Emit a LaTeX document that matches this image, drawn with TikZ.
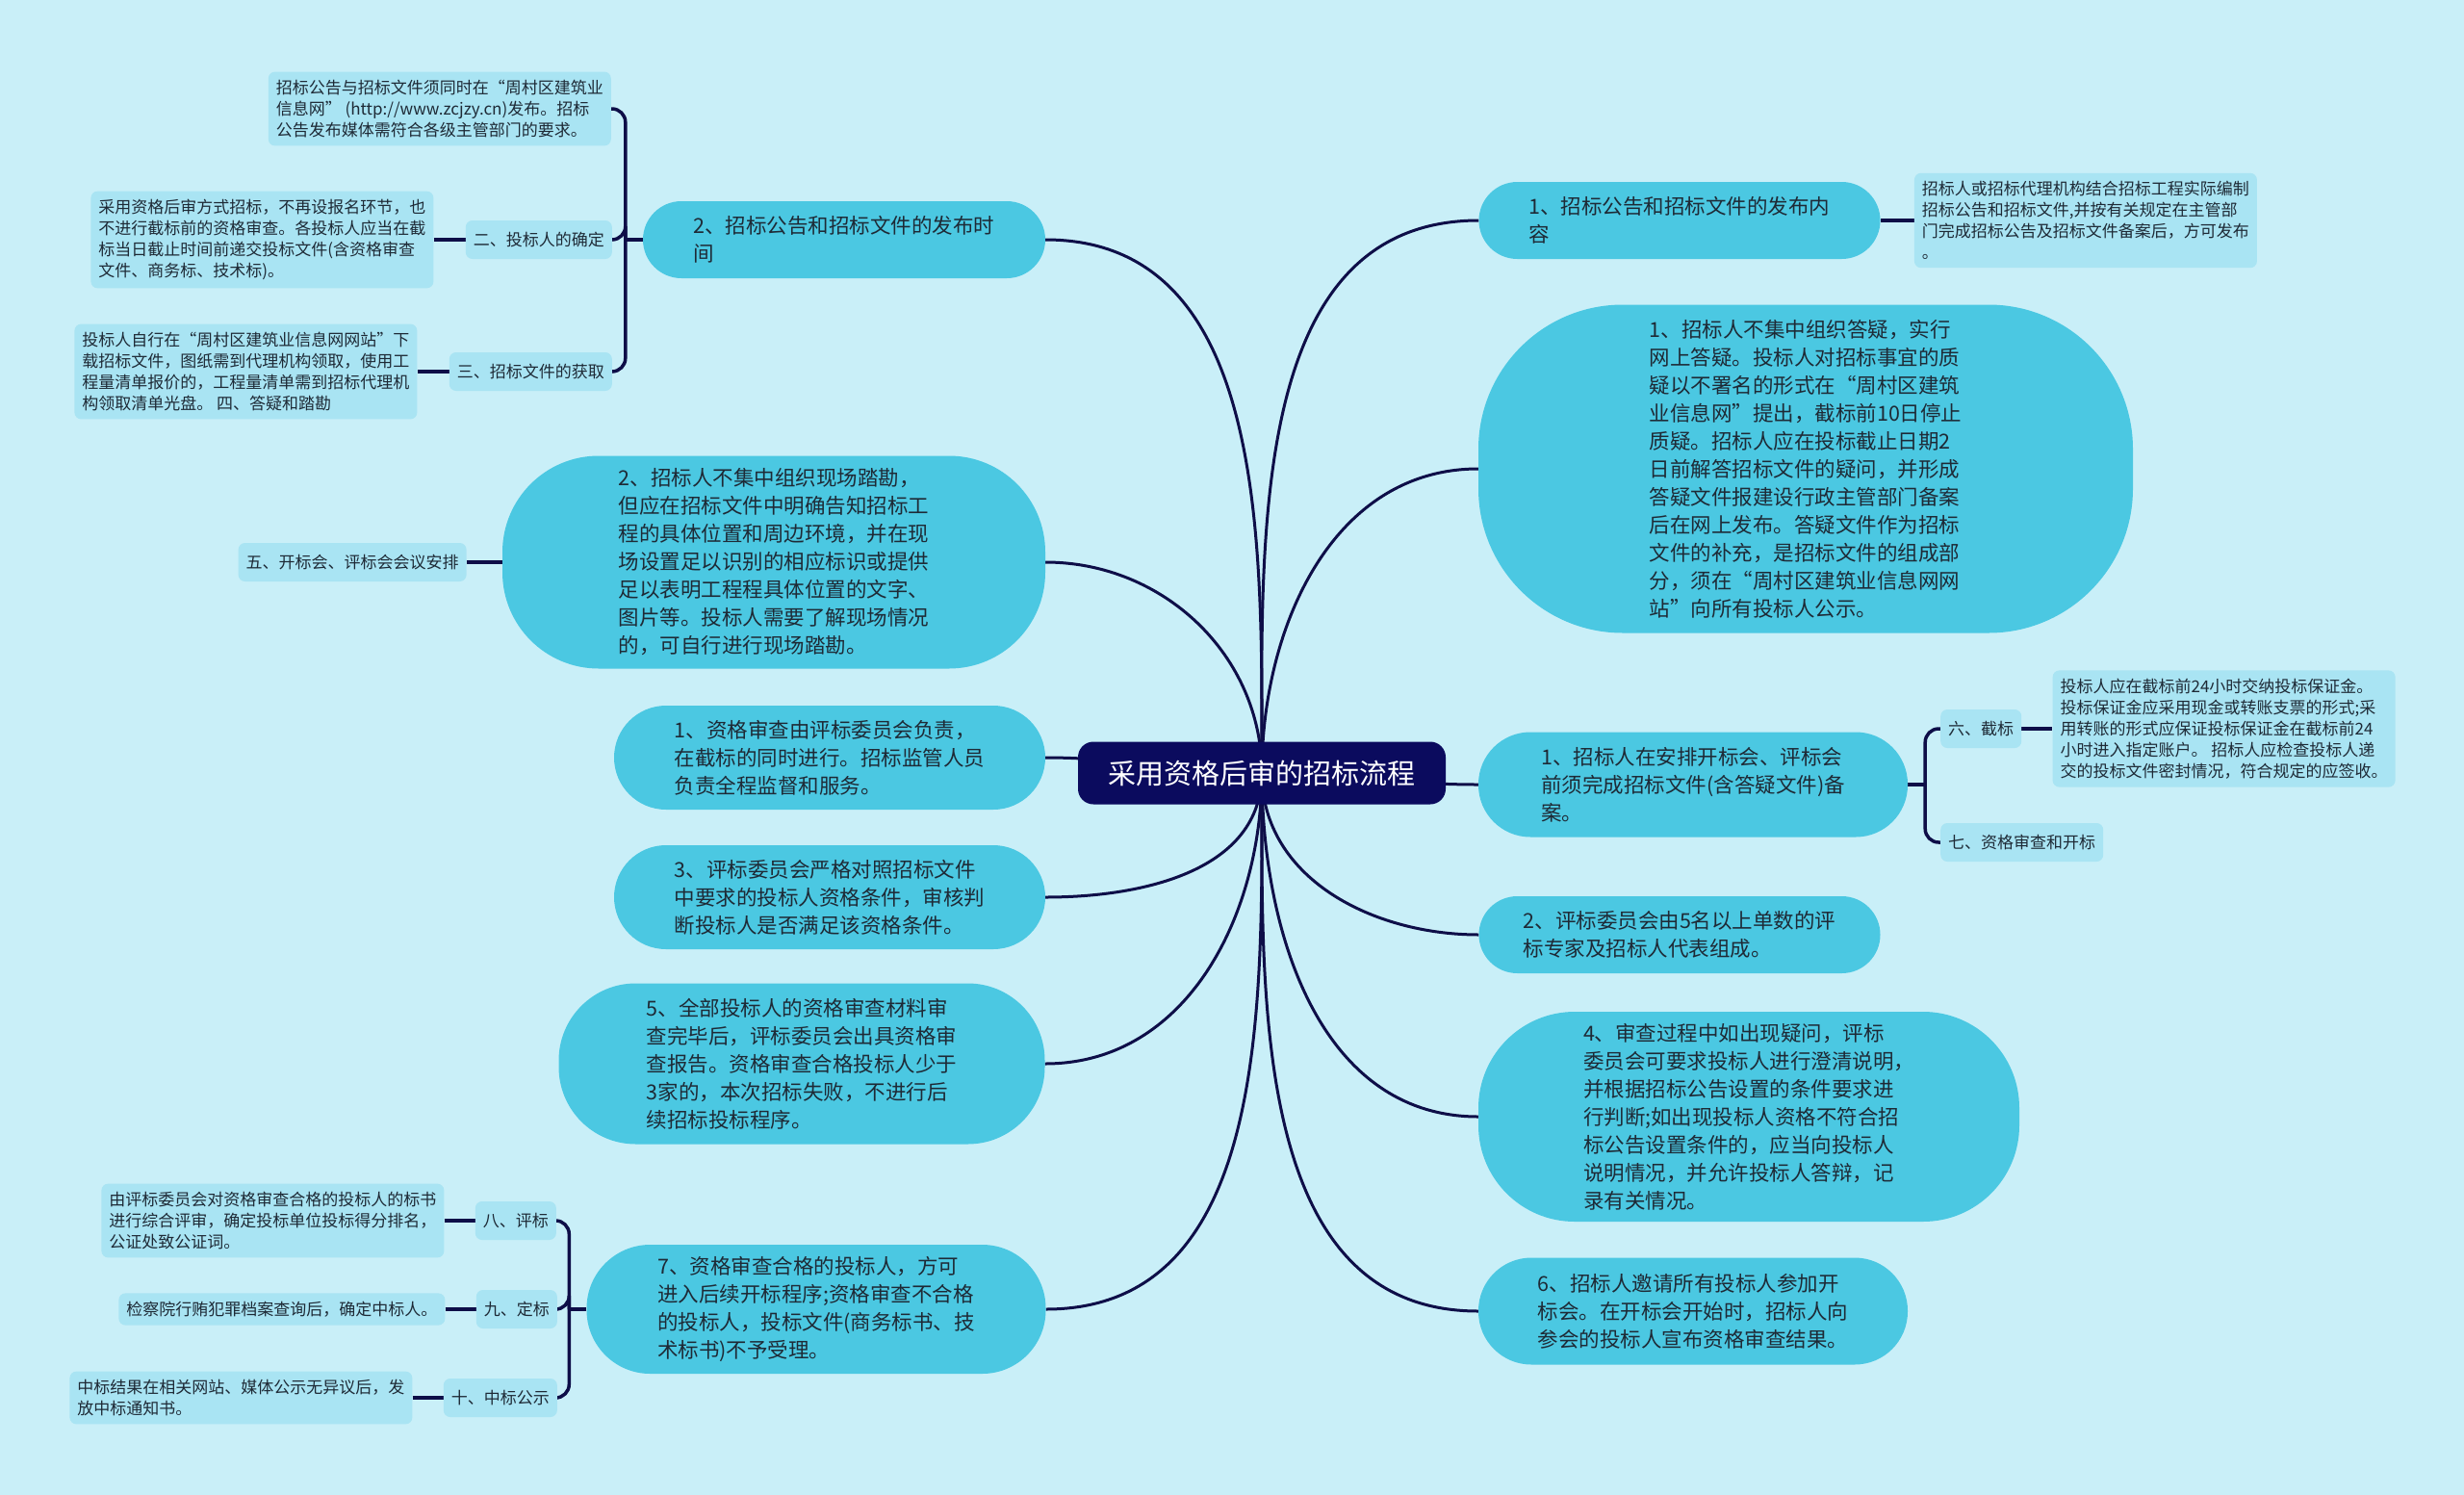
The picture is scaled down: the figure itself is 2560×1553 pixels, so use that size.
\documentclass[tikz,border=0pt]{standalone}
\usepackage{fontspec}
\setmainfont{Noto Sans CJK SC}
\usepackage{tikz}
\usetikzlibrary{positioning}
\usepackage{xcolor}
\definecolor{bgcyan}{HTML}{C9EFF8}
\definecolor{majorfill}{HTML}{4BC8E2}
\definecolor{leaffill}{HTML}{A9E4F3}
\definecolor{hubfill}{HTML}{0B0B5E}
\definecolor{wire}{HTML}{0E0E48}
\definecolor{ink}{HTML}{1E2A36}
\pgfdeclarelayer{links}
\pgfsetlayers{links,main}

\begin{document}
\begin{tikzpicture}[x=1pt, y=-1pt,
  major/.style={fill=majorfill, text=ink, align=left, inner sep=0pt,
                font=\fontsize{21.5}{29}\selectfont, rounded corners=#1},
  major/.default=40pt,
  leaf/.style={fill=leaffill, text=ink, align=left, inner xsep=8pt, inner ysep=8.5pt,
               rounded corners=7pt, font=\fontsize{17}{22}\selectfont},
  tag/.style={leaf, minimum height=40pt},
  hubbox/.style={fill=hubfill, text=white, rounded corners=16pt,
                 minimum width=382pt, minimum height=65pt,
                 font=\fontsize{29}{34}\selectfont},
  trunk/.style={draw=wire, line width=3pt},
  twig/.style={draw=wire, line width=3.5pt, rounded corners=14pt},
]
  \useasboundingbox (0,0) rectangle (2560,1553);

  \node[hubbox] (hub) at (1311,803) {采用资格后审的招标流程};

  \node[major, minimum width=418pt, minimum height=80pt] (pubtime) at (877,249)
    {2、招标公告和招标文件的发布时\\间};
  \node[major=100pt, minimum width=564pt, minimum height=221pt] (sitevisit) at (804,584)
    {2、招标人不集中组织现场踏勘，\\但应在招标文件中明确告知招标工\\程的具体位置和周边环境，并在现\\场设置足以识别的相应标识或提供\\足以表明工程程具体位置的文字、\\图片等。投标人需要了解现场情况\\的，可自行进行现场踏勘。};
  \node[major=54pt, minimum width=448pt, minimum height=108pt] (reviewer) at (862,787)
    {1、资格审查由评标委员会负责，\\在截标的同时进行。招标监管人员\\负责全程监督和服务。};
  \node[major=54pt, minimum width=448pt, minimum height=108pt] (criteria) at (862,932)
    {3、评标委员会严格对照招标文件\\中要求的投标人资格条件，审核判\\断投标人是否满足该资格条件。};
  \node[major=80pt, minimum width=505pt, minimum height=167pt] (report) at (833,1105)
    {5、全部投标人的资格审查材料审\\查完毕后，评标委员会出具资格审\\查报告。资格审查合格投标人少于\\3家的，本次招标失败，不进行后\\续招标投标程序。};
  \node[major=66pt, minimum width=477pt, minimum height=134pt] (admit) at (848,1360)
    {7、资格审查合格的投标人，方可\\进入后续开标程序;资格审查不合格\\的投标人，投标文件(商务标书、技\\术标书)不予受理。};

  \node[leaf, anchor=east] (pubrule) at (635,113)
    {招标公告与招标文件须同时在“周村区建筑业\\信息网” (http://www.zcjzy.cn)发布。招标\\公告发布媒体需符合各级主管部门的要求。};
  \node[tag, anchor=east] (bidderlbl) at (636,249) {二、投标人的确定};
  \node[leaf, left=33pt of bidderlbl] (bidderinfo)
    {采用资格后审方式招标，不再设报名环节，也\\不进行截标前的资格审查。各投标人应当在截\\标当日截止时间前递交投标文件(含资格审查\\文件、商务标、技术标)。};
  \node[tag, anchor=east] (fetchlbl) at (636,386) {三、招标文件的获取};
  \node[leaf, left=33pt of fetchlbl] (fetchinfo)
    {投标人自行在“周村区建筑业信息网网站”下\\载招标文件，图纸需到代理机构领取，使用工\\程量清单报价的，工程量清单需到招标代理机\\构领取清单光盘。 四、答疑和踏勘};
  \node[tag, left=37pt of sitevisit] (meetlbl) {五、开标会、评标会会议安排};

  \node[tag, anchor=east] (evallbl) at (578,1268) {八、评标};
  \node[leaf, left=32pt of evallbl] (evalinfo)
    {由评标委员会对资格审查合格的投标人的标书\\进行综合评审，确定投标单位投标得分排名，\\公证处致公证词。};
  \node[tag, anchor=east] (awardlbl) at (579,1360) {九、定标};
  \node[leaf, left=32pt of awardlbl] (awardinfo) {检察院行贿犯罪档案查询后，确定中标人。};
  \node[tag, anchor=east] (noticelbl) at (579,1452) {十、中标公示};
  \node[leaf, left=32pt of noticelbl] (noticeinfo)
    {中标结果在相关网站、媒体公示无异议后，发\\放中标通知书。};

  \node[major, minimum width=417pt, minimum height=80pt] (pubcontent) at (1745,229)
    {1、招标公告和招标文件的发布内\\容};
  \node[leaf, right=35pt of pubcontent] (pubinfo)
    {招标人或招标代理机构结合招标工程实际编制\\招标公告和招标文件,并按有关规定在主管部\\门完成招标公告及招标文件备案后，方可发布\\。};
  \node[major=150pt, minimum width=680pt, minimum height=341pt] (qanda) at (1876,487)
    {1、招标人不集中组织答疑，实行\\网上答疑。投标人对招标事宜的质\\疑以不署名的形式在“周村区建筑\\业信息网”提出，截标前10日停止\\质疑。招标人应在投标截止日期2\\日前解答招标文件的疑问，并形成\\答疑文件报建设行政主管部门备案\\后在网上发布。答疑文件作为招标\\文件的补充，是招标文件的组成部\\分，须在“周村区建筑业信息网网\\站”向所有投标人公示。};
  \node[major=54pt, minimum width=446pt, minimum height=109pt] (filing) at (1759,815)
    {1、招标人在安排开标会、评标会\\前须完成招标文件(含答疑文件)备\\案。};
  \node[tag, anchor=west] (closelbl) at (2016,757) {六、截标};
  \node[leaf, right=32pt of closelbl] (closeinfo)
    {投标人应在截标前24小时交纳投标保证金。\\投标保证金应采用现金或转账支票的形式;采\\用转账的形式应保证投标保证金在截标前24\\小时进入指定账户。 招标人应检查投标人递\\交的投标文件密封情况，符合规定的应签收。};
  \node[tag, anchor=west] (openlbl) at (2016,875) {七、资格审查和开标};
  \node[major, minimum width=417pt, minimum height=80pt] (panel) at (1745,971)
    {2、评标委员会由5名以上单数的评\\标专家及招标人代表组成。};
  \node[major=100pt, minimum width=562pt, minimum height=218pt] (clarify) at (1817,1160)
    {4、审查过程中如出现疑问，评标\\委员会可要求投标人进行澄清说明，\\并根据招标公告设置的条件要求进\\行判断;如出现投标人资格不符合招\\标公告设置条件的，应当向投标人\\说明情况，并允许投标人答辩，记\\录有关情况。};
  \node[major=55pt, minimum width=446pt, minimum height=111pt] (announce) at (1759,1362)
    {6、招标人邀请所有投标人参加开\\标会。在开标会开始时，招标人向\\参会的投标人宣布资格审查结果。};

  \coordinate (pubfork) at ([xshift=-18pt]pubtime.west);
  \coordinate (admitfork) at ([xshift=-18pt]admit.west);
  \coordinate (filingfork) at ([xshift=18pt]filing.east);

  \begin{pgfonlayer}{links}
    \fill[bgcyan] (0,0) rectangle (2560,1553);

    \draw[trunk] (hub.center) to[out=90,in=0] (pubtime.east);
    \draw[trunk] (hub.center) to[out=90,in=0] (sitevisit.east);
    \draw[trunk] (hub.center) to[out=180,in=0] (reviewer.east);
    \draw[trunk] (hub.center) to[out=-90,in=0] (criteria.east);
    \draw[trunk] (hub.center) to[out=-90,in=0] (report.east);
    \draw[trunk] (hub.center) to[out=-90,in=0] (admit.east);

    \draw[trunk] (hub.center) to[out=90,in=180] (pubcontent.west);
    \draw[trunk] (hub.center) to[out=90,in=180] (qanda.west);
    \draw[trunk] (hub.center) to[out=0,in=180] (filing.west);
    \draw[trunk] (hub.center) to[out=-90,in=180] (panel.west);
    \draw[trunk] (hub.center) to[out=-90,in=180] (clarify.west);
    \draw[trunk] (hub.center) to[out=-90,in=180] (announce.west);

    \draw[twig] (pubtime.west) -- (pubfork);
    \draw[twig] (pubfork) |- (pubrule.east);
    \draw[twig] (pubfork) |- (bidderlbl.east);
    \draw[twig] (pubfork) |- (fetchlbl.east);
    \draw[twig] (bidderinfo) -- (bidderlbl);
    \draw[twig] (fetchinfo) -- (fetchlbl);
    \draw[twig] (meetlbl) -- (sitevisit);

    \draw[twig] (admit.west) -- (admitfork);
    \draw[twig] (admitfork) |- (evallbl.east);
    \draw[twig] (admitfork) |- (awardlbl.east);
    \draw[twig] (admitfork) |- (noticelbl.east);
    \draw[twig] (evalinfo) -- (evallbl);
    \draw[twig] (awardinfo) -- (awardlbl);
    \draw[twig] (noticeinfo) -- (noticelbl);

    \draw[twig] (pubcontent) -- (pubinfo);
    \draw[twig] (filing.east) -- (filingfork);
    \draw[twig] (filingfork) |- (closelbl.west);
    \draw[twig] (filingfork) |- (openlbl.west);
    \draw[twig] (closelbl) -- (closeinfo);
  \end{pgfonlayer}
\end{tikzpicture}
\end{document}
